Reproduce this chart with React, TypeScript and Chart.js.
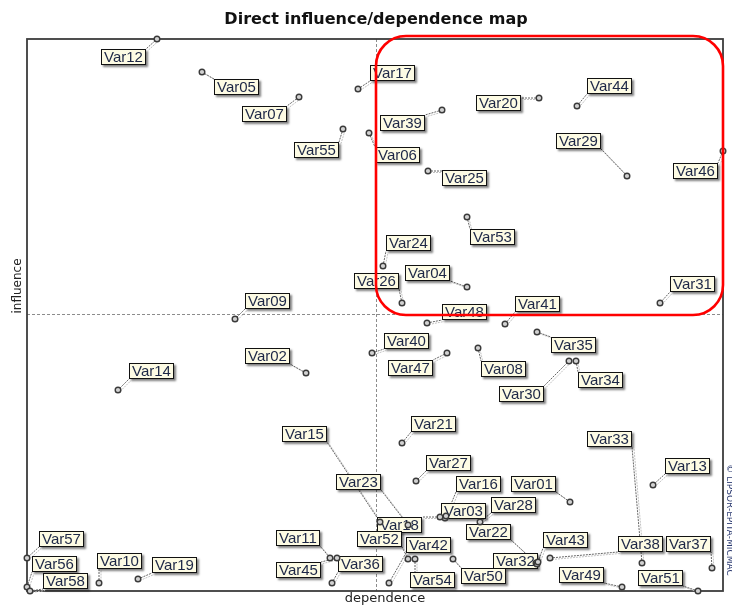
import React, { useEffect, useRef } from 'react';
import { Chart, registerables } from 'chart.js';

Chart.register(...registerables);

// ---- data ----
const VARIABLES = [
  'Var01','Var02','Var03','Var04','Var05','Var06','Var07','Var08','Var09','Var10',
  'Var11','Var12','Var13','Var14','Var15','Var16','Var17','Var18','Var19','Var20',
  'Var21','Var22','Var23','Var24','Var25','Var26','Var27','Var28','Var29','Var30',
  'Var31','Var32','Var33','Var34','Var35','Var36','Var37','Var38','Var39','Var40',
  'Var41','Var42','Var43','Var44','Var45','Var46','Var47','Var48','Var49','Var50',
  'Var51','Var52','Var53','Var54','Var55','Var56','Var57','Var58',
];
const DEPENDENCE = [
  543, 279, 418, 440, 175, 342, 272, 451, 208, 72,
  303, 130, 626, 91, 353, 419, 331, 413, 111, 512,
  375, 509, 381, 356, 401, 375, 389, 453, 600, 542,
  633, 510, 615, 549, 510, 305, 685, 523, 415, 345,
  478, 362, 511, 550, 310, 696, 420, 400, 595, 426,
  671, 381, 440, 388, 316, 0, 0, 3,
];
const INFLUENCE = [
  89, 218, 73, 304, 519, 458, 494, 243, 272, 8,
  33, 552, 106, 201, 69, 75, 502, 74, 12, 493,
  148, 28, 66, 325, 420, 288, 110, 69, 415, 230,
  288, 27, 28, 230, 259, 8, 23, 33, 481, 238,
  267, 8, 29, 485, 33, 440, 238, 268, 4, 32,
  0, 32, 374, 32, 462, 4, 33, 0,
];
const DEPENDENCE_MAX = 696;
const INFLUENCE_MAX = 552;
const MEAN_DEPENDENCE = 349;
const MEAN_INFLUENCE = 277;

const TITLE = 'Direct influence/dependence map';
const X_TITLE = 'dependence';
const Y_TITLE = 'influence';
const COPYRIGHT = '\u00A9 LIPSOR-EPITA-MICMAC';

// ---- layout: label box offsets from each point (pixels) ----
const LABEL_OFFSETS: [number, number][] = [
  [-37, -18], [-39, -17], [18, -7], [-40, -14], [34, 15], [28, 22], [-35, 17], [25, 21], [32, -18], [20, -22],
  [-32, -20], [-34, 18], [34, -19], [33, -19], [-76, -88], [32, -32], [34, -16], [-40, 8], [36, -14], [-41, 5],
  [31, -19], [-48, -31], [-50, -43], [25, -23], [36, 7], [-26, -22], [32, -18], [33, -17], [-49, -35], [-48, 33],
  [32, -19], [-22, -3], [-33, -124], [24, 19], [36, 13], [28, -19], [-24, -24], [90, -14], [-40, 13], [34, -12],
  [32, -20], [40, -38], [27, -22], [32, -20], [-39, 12], [-28, 20], [-37, 15], [37, -11], [-41, -12], [31, 17],
  [-38, -13], [-29, -20], [25, 20], [17, 21], [-27, 21], [27, -23], [34, -19], [35, -10],
];

const LABEL_FONT = '15px "Liberation Sans"';
const BOX_H = 16;

function boxFor(ctx: CanvasRenderingContext2D, px: number, py: number, i: number, name: string) {
  ctx.font = LABEL_FONT;
  const w = Math.round(ctx.measureText(name).width + 6);
  const cx = px + LABEL_OFFSETS[i][0];
  const cy = py + LABEL_OFFSETS[i][1];
  const left = Math.round(cx - w / 2);
  const top = Math.round(cy - BOX_H / 2);
  return { left, top, w, h: BOX_H };
}

const overlay = {
  id: 'micmacOverlay',
  beforeDatasetsDraw(chart: any) {
    const { ctx, chartArea: a, scales } = chart;
    const xs = scales.x, ys = scales.y;
    ctx.save();

    // mean lines
    ctx.strokeStyle = '#8c8c8c';
    ctx.lineWidth = 1;
    ctx.setLineDash([3, 2]);
    const mx = Math.round(xs.getPixelForValue(MEAN_DEPENDENCE)) + 0.5;
    const my = Math.round(ys.getPixelForValue(MEAN_INFLUENCE)) + 0.5;
    ctx.beginPath();
    ctx.moveTo(mx, a.top); ctx.lineTo(mx, a.bottom);
    ctx.moveTo(a.left, my); ctx.lineTo(a.right, my);
    ctx.stroke();
    ctx.setLineDash([]);

    // frame
    ctx.strokeStyle = '#3c3c3c';
    ctx.lineWidth = 1.8;
    ctx.strokeRect(a.left, a.top, a.right - a.left, a.bottom - a.top);

    const boxes = VARIABLES.map((name, i) => {
      const px = xs.getPixelForValue(DEPENDENCE[i]);
      const py = ys.getPixelForValue(INFLUENCE[i]);
      return { px, py, ...boxFor(ctx, px, py, i, name) };
    });

    // leader lines
    boxes.forEach((b) => {
      const qx = Math.min(Math.max(b.px, b.left), b.left + b.w);
      const qy = Math.min(Math.max(b.py, b.top), b.top + b.h);
      if (Math.hypot(qx - b.px, qy - b.py) < 2) return;
      ctx.lineWidth = 1;
      ctx.setLineDash([2, 1]);
      ctx.strokeStyle = '#c2c2c2';
      ctx.beginPath();
      ctx.moveTo(b.px + 2, b.py + 1.5); ctx.lineTo(qx + 2, qy + 1.5);
      ctx.stroke();
      ctx.strokeStyle = '#666666';
      ctx.beginPath();
      ctx.moveTo(b.px, b.py); ctx.lineTo(qx, qy);
      ctx.stroke();
    });
    ctx.setLineDash([]);

    // labels
    boxes.forEach((b, i) => {
      ctx.save();
      ctx.shadowColor = 'rgba(0,0,0,0.5)';
      ctx.shadowBlur = 2;
      ctx.shadowOffsetX = 2;
      ctx.shadowOffsetY = 2;
      ctx.fillStyle = '#fdfbe4';
      ctx.fillRect(b.left, b.top, b.w, b.h);
      ctx.restore();
      ctx.strokeStyle = '#111111';
      ctx.lineWidth = 1;
      ctx.strokeRect(b.left + 0.5, b.top + 0.5, b.w - 1, b.h - 1);
      ctx.fillStyle = '#1d2746';
      ctx.font = LABEL_FONT;
      ctx.textAlign = 'center';
      ctx.textBaseline = 'middle';
      ctx.fillText(VARIABLES[i], b.left + b.w / 2, b.top + b.h / 2 + 1);
    });
    ctx.restore();
  },
  afterDatasetsDraw(chart: any) {
    const { ctx, chartArea: a, scales } = chart;
    const xs = scales.x, ys = scales.y;
    ctx.save();
    // highlight zone (influent and dependent quadrant)
    const l = xs.getPixelForValue(MEAN_DEPENDENCE);
    const b = ys.getPixelForValue(MEAN_INFLUENCE) + 1;
    const r = a.right;
    const t = a.top - 3;
    const rad = 30;
    ctx.strokeStyle = '#ff0000';
    ctx.lineWidth = 2.6;
    ctx.beginPath();
    ctx.moveTo(l + rad, t);
    ctx.lineTo(r - rad, t);
    ctx.arcTo(r, t, r, t + rad, rad);
    ctx.lineTo(r, b - rad);
    ctx.arcTo(r, b, r - rad, b, rad);
    ctx.lineTo(l + rad, b);
    ctx.arcTo(l, b, l, b - rad, rad);
    ctx.lineTo(l, t + rad);
    ctx.arcTo(l, t, l + rad, t, rad);
    ctx.closePath();
    ctx.stroke();
    ctx.restore();
  },
  afterDraw(chart: any) {
    const { ctx } = chart;
    ctx.save();
    ctx.fillStyle = '#111111';
    ctx.font = 'bold 16px "DejaVu Sans"';
    ctx.textAlign = 'center';
    ctx.textBaseline = 'alphabetic';
    ctx.fillText(TITLE, 376, 24);

    ctx.font = '13px "DejaVu Sans"';
    ctx.fillStyle = '#222222';
    ctx.textBaseline = 'middle';
    ctx.fillText(X_TITLE, 385, 599);

    ctx.save();
    ctx.translate(18, 286);
    ctx.rotate(-Math.PI / 2);
    ctx.font = '12px "DejaVu Sans"';
    ctx.fillText(Y_TITLE, 0, 0);
    ctx.restore();

    ctx.save();
    ctx.translate(729, 520);
    ctx.rotate(Math.PI / 2);
    ctx.font = '9px "DejaVu Sans"';
    ctx.fillStyle = '#2b3a70';
    ctx.fillText(COPYRIGHT, 0, 0);
    ctx.restore();
    ctx.restore();
  },
};

export default function App() {
  const ref = useRef<HTMLCanvasElement>(null);
  useEffect(() => {
    const canvas = ref.current;
    if (!canvas) return;
    const chart = new Chart(canvas, {
      type: 'scatter',
      data: {
        datasets: [
          {
            data: VARIABLES.map((_, i) => ({ x: DEPENDENCE[i], y: INFLUENCE[i] })),
            pointRadius: 2.8,
            pointBorderWidth: 1.4,
            pointBackgroundColor: '#d2d2d2',
            pointBorderColor: '#3a3a3a',
            clip: false as any,
          },
        ],
      },
      options: {
        animation: false,
        responsive: false,
        devicePixelRatio: 1,
        layout: { padding: { left: 27, top: 39, right: 9, bottom: 17 } },
        scales: {
          x: { type: 'linear', min: 0, max: DEPENDENCE_MAX, display: false },
          y: { type: 'linear', min: 0, max: INFLUENCE_MAX, display: false },
        },
        plugins: { legend: { display: false }, tooltip: { enabled: false }, title: { display: false } },
      },
      plugins: [overlay],
    });
    return () => chart.destroy();
  }, []);
  return (
    <div style={{ position: 'absolute', left: 0, top: 0, width: 732, height: 608, background: '#fff' }}>
      <canvas ref={ref} width={732} height={608} style={{ display: 'block', width: 732, height: 608 }} />
    </div>
  );
}
